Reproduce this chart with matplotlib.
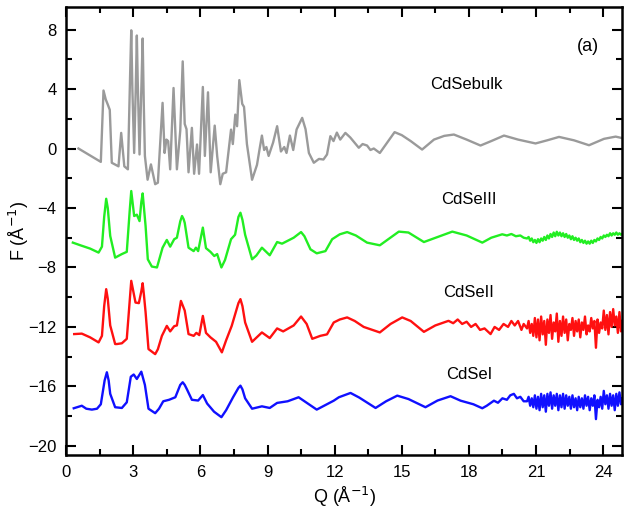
import matplotlib
matplotlib.use("Agg")
import matplotlib.pyplot as plt
from matplotlib.ticker import MultipleLocator

plt.rcParams["font.family"] = ["Liberation Sans", "DejaVu Sans"]

# ---- CdSe bulk (gray) ----
q_bulk = [0.55, 1.55, 1.67, 1.77, 1.85, 1.95, 2.04, 2.34, 2.46, 2.6, 2.76, 2.86, 2.91, 2.96,
          3.04, 3.11, 3.16, 3.2, 3.28, 3.37, 3.42, 3.47, 3.52, 3.64, 3.79, 3.98, 4.1, 4.31,
          4.4, 4.48, 4.56, 4.65, 4.8, 4.95, 5.1, 5.21, 5.3, 5.38, 5.47, 5.62, 5.72, 5.85,
          5.94, 6.11, 6.2, 6.34, 6.46, 6.64, 6.75, 6.89, 7.0, 7.15, 7.37, 7.45, 7.56, 7.64,
          7.74, 7.87, 7.95, 8.08, 8.31, 8.53, 8.65, 8.75, 8.85, 8.95, 9.05, 9.25, 9.43, 9.6,
          9.75, 9.85, 10.0, 10.15, 10.3, 10.55, 10.7, 10.85, 11.07, 11.3, 11.5, 11.66, 11.81,
          11.95, 12.1, 12.25, 12.48, 12.7, 13.08, 13.25, 13.45, 13.6, 13.75, 14.02, 14.35,
          14.68, 15.0, 15.4, 15.91, 16.44, 16.9, 17.33, 17.9, 18.52, 19.0, 19.57, 20.2,
          20.98, 21.5, 22.03, 22.7, 23.37, 24.04, 24.56, 24.85]
f_bulk = [0.0, -0.9, 3.9, 3.3, 3.0, 2.6, -0.96, -1.2, 1.05, -1.2, -1.4, 5.0, 7.95, 4.0,
          -0.3, 4.0, 7.6, 4.5, -0.4, 4.5, 7.4, 3.0, -0.5, -2.1, -1.07, -2.4, -2.3, 3.07,
          -0.3, 0.6, 0.5, -1.4, 4.07, -1.4, 1.2, 5.86, 1.65, 1.3, -1.6, 1.39, -1.7, 0.27,
          -1.7, 4.14, -0.5, 3.78, -1.6, 1.54, -0.5, -2.4, -1.7, -1.6, 1.27, 0.3, 2.28, 1.5,
          4.6, 3.0, 2.8, 0.3, -2.1, -1.1, 0.0, 0.87, -0.1, 0.1, -0.5, 0.4, 1.5, -0.2,
          0.1, -0.3, 0.87, -0.1, 1.28, 2.06, 1.3, -0.3, -0.96, -0.7, -0.74, -0.4, 0.83,
          0.5, 1.07, 0.6, 1.05, 0.74, 0.05, 0.3, 0.2, -0.1, 0.0, -0.3, 0.4,
          1.1, 0.9, 0.5, -0.07, 0.6, 0.85, 0.94, 0.6, 0.2, 0.5, 0.87, 0.6,
          0.34, 0.55, 0.78, 0.55, 0.22, 0.65, 0.8, 0.7]

# shared Q sampling of the noisy high-Q tails
q_tail = [20.60, 20.67, 20.74, 20.81, 20.88, 20.95, 21.02, 21.09, 21.16, 21.23, 21.30,
          21.37, 21.44, 21.51, 21.58, 21.65, 21.72, 21.79, 21.86, 21.93, 22.00, 22.07,
          22.14, 22.21, 22.28, 22.35, 22.42, 22.49, 22.56, 22.63, 22.70, 22.77, 22.84,
          22.91, 22.98, 23.05, 23.12, 23.19, 23.26, 23.33, 23.40, 23.47, 23.54, 23.61,
          23.68, 23.75, 23.82, 23.89, 23.96, 24.03, 24.10, 24.17, 24.24, 24.31, 24.38,
          24.45, 24.52, 24.59, 24.66, 24.73, 24.80, 24.85]

# ---- CdSe III (green) ----
q_green = [0.3, 0.6, 1.07, 1.45, 1.6, 1.7, 1.79, 1.86, 1.97, 2.19, 2.49, 2.71, 2.84, 2.91,
           3.04, 3.16, 3.28, 3.36, 3.42, 3.48, 3.55, 3.65, 3.83, 4.06, 4.31, 4.5, 4.65,
           4.83, 4.95, 5.1, 5.18, 5.25, 5.3, 5.47, 5.7, 5.8, 5.9, 6.11, 6.25, 6.45, 6.62,
           6.75, 6.94, 7.1, 7.37, 7.55, 7.7, 7.79, 7.88, 8.0, 8.31, 8.5, 8.75, 9.1, 9.43,
           9.65, 10.17, 10.5, 10.65, 10.92, 11.2, 11.59, 11.89, 12.23, 12.56, 12.95, 13.45,
           14.02, 14.4, 14.87, 15.3, 15.99, 16.6, 17.26, 17.9, 18.6, 19.0, 19.49, 19.7,
           19.9, 20.1, 20.3, 20.45]
f_green = [-6.33, -6.49, -6.73, -7.0, -6.6, -4.6, -3.38, -4.0, -5.88, -7.34, -7.1, -6.95,
           -4.2, -2.86, -4.54, -4.45, -4.88, -3.6, -3.02, -4.0, -5.2, -7.45, -7.94, -8.0,
           -6.67, -6.15, -6.6, -6.1, -6.0, -4.9, -4.54, -4.75, -5.0, -6.67, -6.9, -6.67,
           -6.9, -5.32, -6.7, -6.95, -7.23, -7.1, -8.0, -7.5, -6.1, -5.8, -4.6, -4.32,
           -4.8, -5.8, -7.45, -7.2, -6.67, -7.18, -6.29, -6.4, -6.0, -5.62, -5.9, -6.78,
           -7.05, -6.9, -6.1, -5.77, -5.62, -5.85, -6.33, -6.51, -6.1, -5.59, -5.65,
           -6.29, -5.95, -5.59, -5.85, -6.33, -6.0, -5.77, -5.85, -5.75, -5.9, -5.85, -6.0]
f_green_tail = [-6.05, -5.95, -6.2, -6.05, -6.3, -6.15, -6.35, -6.1, -6.3, -6.05, -6.2,
                -5.95, -6.15, -5.85, -6.05, -5.75, -5.95, -5.65, -5.9, -5.6, -5.85, -5.65,
                -5.9, -5.7, -5.95, -5.75, -6.0, -5.85, -6.1, -5.9, -6.15, -6.0, -6.2,
                -6.05, -6.3, -6.15, -6.35, -6.2, -6.4, -6.25, -6.4, -6.2, -6.35, -6.15,
                -6.25, -6.05, -6.15, -5.95, -6.05, -5.85, -5.95, -5.8, -5.9, -5.7, -5.85,
                -5.7, -5.8, -5.65, -5.8, -5.7, -5.8, -5.75]

# ---- CdSe II (red) ----
q_red = [0.36, 0.7, 1.07, 1.45, 1.6, 1.7, 1.79, 1.86, 1.97, 2.19, 2.27, 2.49, 2.71, 2.84,
         2.91, 3.1, 3.25, 3.36, 3.42, 3.48, 3.55, 3.68, 3.98, 4.1, 4.28, 4.5, 4.65, 4.83,
         4.95, 5.13, 5.3, 5.47, 5.7, 5.82, 5.95, 6.11, 6.25, 6.45, 6.7, 6.96, 7.15, 7.4,
         7.7, 7.79, 7.88, 8.0, 8.31, 8.75, 9.1, 9.43, 9.7, 10.17, 10.5, 10.75, 11.0, 11.36,
         11.66, 11.96, 12.23, 12.56, 12.9, 13.3, 14.02, 14.5, 15.02, 15.4, 15.99, 16.5,
         17.09, 17.3, 17.5, 17.7, 17.9, 18.1, 18.3, 18.5, 18.7, 18.97, 19.15, 19.35,
         19.55, 19.75, 19.9, 20.05, 20.2, 20.35, 20.45]
f_red = [-12.48, -12.45, -12.7, -13.04, -12.6, -10.6, -9.46, -10.1, -11.9, -13.15, -13.15,
         -13.1, -12.8, -10.3, -8.9, -10.36, -10.4, -9.6, -9.06, -9.9, -11.0, -13.49,
         -13.83, -13.5, -12.6, -11.93, -12.3, -11.95, -11.9, -10.25, -10.9, -12.48, -12.6,
         -12.4, -12.55, -11.26, -12.4, -12.7, -13.0, -13.71, -12.9, -11.93, -10.4, -10.13,
         -10.6, -11.7, -13.0, -12.37, -12.75, -12.1, -12.3, -11.9, -11.3, -11.8, -12.8,
         -12.6, -12.5, -11.7, -11.5, -11.36, -11.6, -12.0, -12.37, -11.8, -11.36, -11.6,
         -12.33, -11.9, -11.59, -11.75, -11.5, -11.8, -11.65, -12.0, -11.8, -12.2, -12.1,
         -12.48, -12.0, -12.2, -11.8, -12.0, -11.6, -11.9, -11.6, -12.2, -11.8]
f_red_tail = [-12.1, -11.6, -12.4, -11.8, -12.6, -11.4, -12.7, -11.5, -12.9, -11.3, -12.5,
              -11.6, -13.2, -11.5, -12.4, -11.2, -12.8, -11.7, -12.3, -11.1, -13.0, -11.6,
              -12.6, -11.3, -12.4, -11.5, -12.9, -11.8, -12.2, -11.4, -12.6, -11.6, -12.3,
              -11.5, -12.7, -11.7, -12.2, -11.3, -12.5, -11.9, -12.3, -11.4, -12.1, -11.6,
              -13.4, -11.5, -12.4, -11.7, -12.1, -10.9, -12.2, -11.2, -12.5, -11.0, -12.0,
              -10.8, -11.9, -11.3, -12.4, -11.0, -12.3, -11.6]

# ---- CdSe I (blue) ----
q_blue = [0.34, 0.7, 0.9, 1.15, 1.38, 1.55, 1.72, 1.82, 1.9, 1.97, 2.19, 2.49, 2.71, 2.89,
          3.02, 3.16, 3.36, 3.52, 3.68, 3.98, 4.15, 4.34, 4.6, 4.88, 5.1, 5.21, 5.3, 5.4,
          5.62, 5.9, 6.11, 6.3, 6.61, 6.94, 7.15, 7.46, 7.7, 7.79, 7.88, 8.0, 8.31, 8.75,
          9.1, 9.43, 9.9, 10.39, 10.75, 11.2, 11.66, 11.96, 12.19, 12.71, 13.1, 13.83, 14.3,
          14.8, 15.3, 16.06, 16.6, 17.18, 17.63, 18.2, 18.6, 18.8, 19.12, 19.3, 19.5, 19.7,
          19.85, 20.01, 20.15, 20.3, 20.45]
f_blue = [-17.47, -17.3, -17.5, -17.56, -17.5, -17.2, -15.6, -15.05, -15.6, -16.5, -17.4,
          -17.45, -17.07, -15.35, -15.2, -15.5, -15.01, -15.9, -17.5, -17.8, -17.5, -17.0,
          -16.9, -16.73, -15.9, -15.72, -15.9, -16.2, -16.9, -16.95, -16.58, -17.15, -17.7,
          -18.07, -17.6, -16.73, -16.1, -15.95, -16.2, -16.8, -17.5, -17.34, -17.45,
          -17.11, -17.0, -16.73, -17.1, -17.56, -17.2, -16.96, -16.73, -16.44, -16.75,
          -17.45, -17.0, -16.62, -16.85, -17.4, -16.95, -16.66, -16.96, -17.2, -17.47,
          -17.3, -16.96, -17.1, -16.8, -16.9, -16.6, -16.5, -16.8, -16.7, -17.0]
f_blue_tail = [-17.0, -16.7, -17.3, -16.8, -17.4, -16.6, -17.5, -16.7, -17.6, -16.5, -17.4,
               -16.6, -17.7, -16.5, -17.3, -16.4, -17.5, -16.6, -17.3, -16.5, -17.6, -16.6,
               -17.4, -16.5, -17.5, -16.6, -17.3, -16.7, -17.5, -16.6, -17.4, -16.8, -17.6,
               -16.7, -17.4, -16.8, -17.5, -16.6, -17.3, -16.7, -17.6, -16.8, -17.3, -16.6,
               -18.2, -16.9, -17.4, -16.7, -17.5, -16.3, -17.2, -16.6, -17.5, -16.5, -17.3,
               -16.6, -17.6, -16.5, -17.3, -16.4, -17.2, -16.8]

series = [
    (q_bulk, f_bulk, "#9a9a9a"),
    (q_green + q_tail, f_green + f_green_tail, "#22ee22"),
    (q_red + q_tail, f_red + f_red_tail, "#ff1010"),
    (q_blue + q_tail, f_blue + f_blue_tail, "#1010ff"),
]
labels = ["CdSebulk", "CdSeIII", "CdSeII", "CdSeI"]
label_pos = [(17.9, 4.3), (18.0, -3.4), (18.0, -9.7), (18.0, -15.2)]

fig = plt.figure(figsize=(6.24, 5.18), dpi=100)
ax = fig.add_axes([0.106, 0.122, 0.891, 0.864])

for q, f, c in series:
    ax.plot(q, f, color=c, lw=1.7)

for txt, (x, y) in zip(labels, label_pos):
    ax.text(x, y, txt, ha="center", va="center", fontsize=12)
ax.text(23.3, 6.85, "(a)", ha="center", va="center", fontsize=13)

ax.set_xlim(0, 24.85)
ax.set_ylim(-20.6, 9.5)
ax.xaxis.set_major_locator(MultipleLocator(3))
ax.xaxis.set_minor_locator(MultipleLocator(1.5))
ax.yaxis.set_major_locator(MultipleLocator(4))
ax.yaxis.set_minor_locator(MultipleLocator(2))
ax.tick_params(which="both", direction="in", top=True, right=True, width=1.5, labelsize=12)
ax.tick_params(which="major", length=7, pad=7)
ax.tick_params(which="minor", length=4)
for s in ax.spines.values():
    s.set_linewidth(1.8)

ax.set_xlabel("Q (Å$^{-1}$)", fontsize=13)
ax.set_ylabel("F (Å$^{-1}$)", fontsize=13)
ax.yaxis.set_label_coords(-0.063, 0.5)

fig.savefig("out.png", dpi=100)
